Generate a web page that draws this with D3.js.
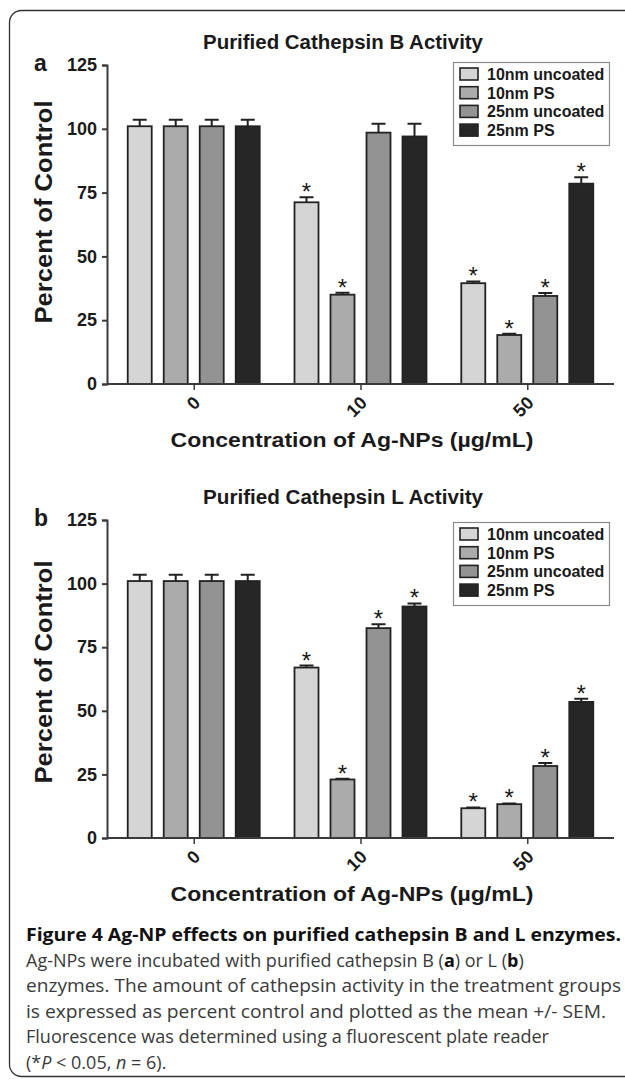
<!DOCTYPE html>
<html>
<head>
<meta charset="utf-8">
<script src="https://cdn.jsdelivr.net/npm/d3@7"></script>
<style>
  html, body { margin: 0; padding: 0; background: #fff; }
  svg { display: block; }
  .chart text { font-family: "Liberation Sans", Arial, sans-serif; font-weight: bold; fill: #1a1a1a; }
  .cap text { font-family: "Open Sans", "Noto Sans", sans-serif; fill: #3a3a3a; }
</style>
</head>
<body>
<svg width="625" height="1082"></svg>
<script>
'use strict';

// concentrations of Ag-NPs (ug/mL)
var groups = ["0", "10", "50"];
var series = ["10nm uncoated", "10nm PS", "25nm uncoated", "25nm PS"];
var colors = ["#d5d5d5", "#ababab", "#939393", "#262626"];
var yTicks = [0, 25, 50, 75, 100, 125];

// cathepsin B, one row per series, one value per concentration
var meansB = [[101, 71.2, 39.5], [101, 35, 19.2], [101, 98.5, 34.5], [101, 97, 78.5]];
var semB = [[2.5, 2, 0.7], [2.5, 0.8, 0.5], [2.5, 3.5, 1.2], [2.5, 5, 2.5]];
var starB = [[0, 1, 1], [0, 1, 1], [0, 0, 1], [0, 0, 1]];

// cathepsin L
var meansL = [[101, 67, 11.7], [101, 23, 13.3], [101, 82.5, 28.3], [101, 91, 53.5]];
var semL = [[2.5, 0.8, 0.3], [2.5, 0.3, 0.3], [2.5, 1.5, 1.2], [2.5, 1.2, 1.2]];
var starL = [[0, 1, 1], [0, 1, 1], [0, 1, 1], [0, 1, 1]];

var svg = d3.select("svg");

// frame round the figure
svg.append("rect")
  .attr("x", 9.5).attr("y", 10.5)
  .attr("width", 700).attr("height", 1066)
  .attr("rx", 12)
  .attr("fill", "none").attr("stroke", "#333").attr("stroke-width", 1.3);

var chart = svg.append("g").attr("class", "chart");

function drawPanel(opt) {
  var g = chart.append("g");
  var left = 107, right = 614;

  var x = d3.scalePoint().domain(groups).range([left, right]).padding(0.52);
  var xi = d3.scaleBand().domain(series).range([-66, 66]).paddingInner(1 / 3).paddingOuter(0);
  var y = d3.scaleLinear().domain([0, 125]).range([opt.bottom, opt.top]);

  g.append("text")
    .attr("x", 343).attr("y", opt.top - 16)
    .attr("text-anchor", "middle")
    .attr("textLength", 280).attr("lengthAdjust", "spacingAndGlyphs")
    .style("font-size", "20px")
    .text(opt.title);

  g.append("text")
    .attr("x", 34).attr("y", opt.top + 6)
    .style("font-size", "23px")
    .text(opt.letter);

  // bars, error bars and stars
  series.forEach(function(s, si) {
    var rows = groups.map(function(grp, gi) {
      return { grp: grp, v: opt.means[si][gi], e: opt.sem[si][gi], star: opt.star[si][gi] };
    });
    var bg = g.append("g");
    var cx = function(d) { return x(d.grp) + xi(s) + xi.bandwidth() / 2; };

    bg.selectAll(".err").data(rows).enter().append("path")
      .attr("d", function(d) {
        var c = cx(d), t = y(d.v + d.e);
        return "M" + c + "," + y(d.v) + "V" + t + "M" + (c - 7) + "," + t + "H" + (c + 7);
      })
      .attr("stroke", "#222").attr("stroke-width", 2).attr("fill", "none");

    bg.selectAll("rect").data(rows).enter().append("rect")
      .attr("x", function(d) { return x(d.grp) + xi(s); })
      .attr("width", xi.bandwidth())
      .attr("y", function(d) { return y(d.v); })
      .attr("height", function(d) { return y(0) - y(d.v); })
      .attr("fill", colors[si])
      .attr("stroke", "#222").attr("stroke-width", 1.8);

    bg.selectAll(".star").data(rows.filter(function(d) { return d.star; })).enter().append("text")
      .attr("x", cx)
      .attr("y", function(d) { return y(d.v + d.e) + 3; })
      .attr("text-anchor", "middle")
      .style("font-size", "24px").style("font-weight", "normal")
      .attr("fill", "#2a2a2a")
      .text("*");
  });

  // y axis
  var ya = g.append("g")
    .attr("transform", "translate(" + left + ",0)")
    .call(d3.axisLeft(y).tickValues(yTicks).tickSize(5).tickPadding(5));
  ya.select(".domain").attr("stroke", "#3a3a3a").attr("stroke-width", 2);
  ya.selectAll(".tick line").attr("stroke", "#3a3a3a").attr("stroke-width", 2);
  ya.selectAll(".tick text").style("font-size", "18px").style("font-family", "Liberation Sans, Arial, sans-serif").attr("fill", "#1a1a1a");

  // x axis
  var xa = g.append("g")
    .attr("transform", "translate(0," + opt.bottom + ")")
    .call(d3.axisBottom(x).tickSize(6).tickSizeOuter(0));
  xa.select(".domain").attr("d", "M" + left + ",0H" + right).attr("stroke", "#3a3a3a").attr("stroke-width", 2);
  xa.selectAll(".tick line").attr("stroke", "#3a3a3a").attr("stroke-width", 1.5);
  xa.selectAll(".tick text")
    .attr("y", 0).attr("dy", 0)
    .attr("transform", "translate(7,20) rotate(-45)")
    .attr("text-anchor", "end")
    .style("font-size", "18px").style("font-family", "Liberation Sans, Arial, sans-serif").attr("fill", "#1a1a1a");

  g.append("text")
    .attr("x", 352).attr("y", opt.bottom + 63)
    .attr("text-anchor", "middle")
    .attr("textLength", 363).attr("lengthAdjust", "spacingAndGlyphs")
    .style("font-size", "20px")
    .text("Concentration of Ag-NPs (\u00b5g/mL)");

  g.append("text")
    .attr("transform", "translate(52," + opt.ylabelY + ") rotate(-90)")
    .attr("text-anchor", "middle")
    .attr("textLength", 223).attr("lengthAdjust", "spacingAndGlyphs")
    .style("font-size", "23px")
    .text("Percent of Control");

  // legend
  var lg = g.append("g");
  lg.append("rect")
    .attr("x", 453.5).attr("y", opt.legTop + 0.5)
    .attr("width", 156).attr("height", 83)
    .attr("fill", "#fff").attr("stroke", "#8a8a8a").attr("stroke-width", 1.2);
  var items = lg.selectAll(".item").data(series).enter().append("g")
    .attr("transform", function(d, i) { return "translate(0," + (opt.legTop + 12 + i * 18.7) + ")"; });
  items.append("rect")
    .attr("x", 460).attr("y", -6).attr("width", 18).attr("height", 12)
    .attr("fill", function(d, i) { return colors[i]; })
    .attr("stroke", "#222").attr("stroke-width", 1.6);
  items.append("text")
    .attr("x", 487).attr("y", 6)
    .style("font-size", "16px")
    .text(function(d) { return d; });
}

drawPanel({ title: "Purified Cathepsin B Activity", letter: "a", top: 65, bottom: 384, ylabelY: 212,
  legTop: 62, means: meansB, sem: semB, star: starB });
drawPanel({ title: "Purified Cathepsin L Activity", letter: "b", top: 520, bottom: 838, ylabelY: 672,
  legTop: 522, means: meansL, sem: semL, star: starL });

// caption (width is only forced on the lines without tspans)
var cap = svg.append("g").attr("class", "cap").style("font-size", "18px");
var capLines = [
  { w: 595, parts: [["Figure 4 Ag-NP effects on purified cathepsin B and L enzymes.", "b"]] },
  { w: 0, parts: [["Ag-NPs were incubated with purified cathepsin B (", ""], ["a", "b"], [") or L (", ""], ["b", "b"], [")", ""]] },
  { w: 595, parts: [["enzymes. The amount of cathepsin activity in the treatment groups", ""]] },
  { w: 580, parts: [["is expressed as percent control and plotted as the mean +/- SEM.", ""]] },
  { w: 523, parts: [["Fluorescence was determined using a fluorescent plate reader", ""]] },
  { w: 0, parts: [["(*", ""], ["P", "i"], [" < 0.05, ", ""], ["n", "i"], [" = 6).", ""]] }
];
capLines.forEach(function(line, i) {
  var t = cap.append("text")
    .attr("x", 26).attr("y", 941 + i * 25.6);
  if (line.w) t.attr("textLength", line.w).attr("lengthAdjust", "spacingAndGlyphs");
  line.parts.forEach(function(p) {
    t.append("tspan")
      .style("font-weight", p[1] === "b" ? "bold" : "normal")
      .style("font-style", p[1] === "i" ? "italic" : "normal")
      .attr("fill", p[1] === "b" ? "#111" : "#3a3a3a")
      .text(p[0]);
  });
});
</script>
</body>
</html>
